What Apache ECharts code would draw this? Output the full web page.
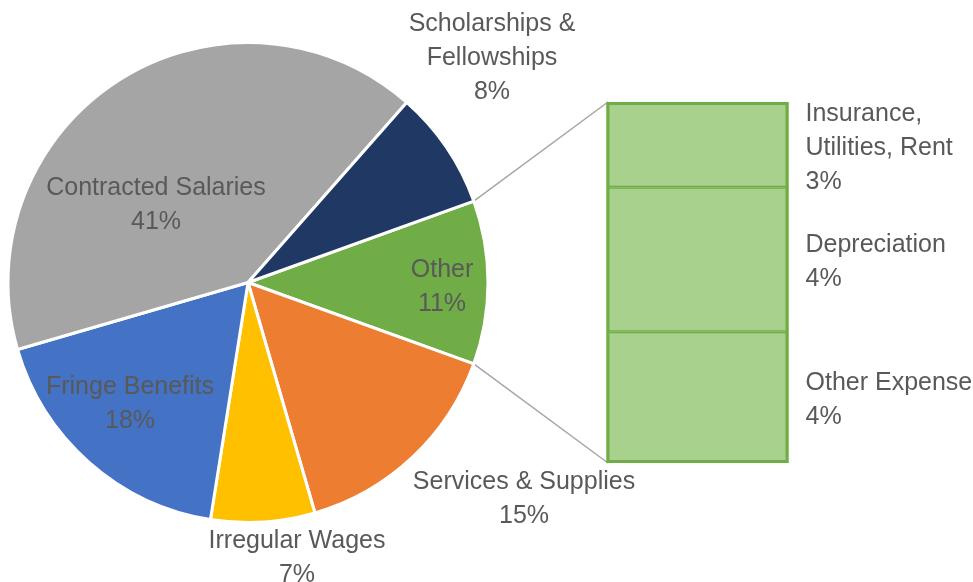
<!DOCTYPE html>
<html>
<head>
<meta charset="utf-8">
<script src="https://cdn.jsdelivr.net/npm/echarts@6/dist/echarts.min.js"></script>
<style>html,body{margin:0;padding:0;background:#fff;}#c{width:973px;height:582px;}</style>
</head>
<body>
<div id="c"></div>
<script>
// ---- data ----
const pieCategories = ['Other', 'Services & Supplies', 'Irregular Wages', 'Fringe Benefits', 'Contracted Salaries', 'Scholarships & Fellowships'];
const pieLabelNames = ['Other', 'Services & Supplies', 'Irregular Wages', 'Fringe Benefits', 'Contracted Salaries', 'Scholarships &\nFellowships'];
const pieValues = [11, 15, 7, 18, 41, 8];
const barCategories = ['Other Expense', 'Depreciation', 'Insurance, Utilities, Rent'];
const barLabelNames = ['Other Expense', 'Depreciation', 'Insurance,\nUtilities, Rent'];
const barValues = [4.0, 4.4, 2.6];

// ---- styling / layout ----
const pieColors = ['#70ad47', '#ed7d31', '#ffc000', '#4472c4', '#a5a5a5', '#203864'];
const textColor = '#595959';
const font = 'Liberation Sans';
const fontSize = 25;
const lineH = 34;
const cx = 248, cy = 282.5, R = 240;
// label centers relative to pie centre (px)
const labelOffsets = [[194, 5], [276, 217], [49, 276], [-118, 122], [-92, -77], [244, -224]];
const gridLeft = 606.5, gridTop = 102, gridWidth = 182, gridHeight = 361;

const total = pieValues.reduce((a, b) => a + b, 0);
const barTotal = barValues.reduce((a, b) => a + b, 0);
const otherDeg = 360 * pieValues[0] / total;

const chart = echarts.init(document.getElementById('c'), null, {renderer: 'canvas'});

const barSeries = barValues.map((v, i) => ({
  type: 'bar',
  name: barCategories[i],
  stack: 'other',
  data: [v],
  barWidth: '100%',
  barGap: '-100%',
  itemStyle: {color: '#a9d18e', borderColor: '#70ad47', borderWidth: 1.5},
  label: {
    show: true,
    position: 'right',
    distance: 17,
    offset: [0, 3],
    align: 'left',
    color: textColor,
    fontFamily: font,
    fontSize: fontSize,
    lineHeight: lineH,
    formatter: () => barLabelNames[i] + '\n' + Math.round(v / total * 100) + '%'
  },
  emphasis: {disabled: true},
  silent: true
}));

// outline of the whole stacked bar (sum of the breakdown)
barSeries.push({
  type: 'bar',
  name: 'outline',
  data: [barTotal],
  barWidth: '100%',
  barGap: '-100%',
  z: 3,
  itemStyle: {color: 'rgba(0,0,0,0)', borderColor: '#70ad47', borderWidth: 3},
  label: {show: false},
  emphasis: {disabled: true},
  silent: true
});

chart.setOption({
  animation: false,
  backgroundColor: '#ffffff',
  grid: {left: gridLeft, top: gridTop, width: gridWidth, height: gridHeight, containLabel: false},
  xAxis: {type: 'category', data: ['Other'], show: false, boundaryGap: true},
  yAxis: {type: 'value', min: 0, max: barTotal, show: false, splitLine: {show: false}},
  series: [
    {
      type: 'pie',
      center: [cx, cy],
      radius: R,
      startAngle: otherDeg / 2,
      clockwise: true,
      avoidLabelOverlap: false,
      silent: true,
      emphasis: {disabled: true},
      data: pieCategories.map((n, i) => ({name: n, value: pieValues[i], itemStyle: {color: pieColors[i]}})),
      itemStyle: {borderColor: '#ffffff', borderWidth: 3},
      label: {
        show: true,
        position: 'inside',
        color: textColor,
        fontFamily: font,
        fontSize: fontSize,
        lineHeight: lineH,
        align: 'center',
        formatter: p => pieLabelNames[p.dataIndex] + '\n' + Math.round(p.percent) + '%'
      },
      labelLine: {show: false},
      labelLayout: p => ({
        x: cx + labelOffsets[p.dataIndex][0],
        y: cy + labelOffsets[p.dataIndex][1],
        align: 'center',
        verticalAlign: 'middle'
      })
    },
    ...barSeries
  ]
});

// connector lines from the "Other" slice edges to the bar corners
const a1 = (90 - otherDeg / 2) * Math.PI / 180; // compass angle of slice start
const a2 = (90 + otherDeg / 2) * Math.PI / 180;
const p1 = [cx + R * Math.sin(a1), cy - R * Math.cos(a1)];
const p2 = [cx + R * Math.sin(a2), cy - R * Math.cos(a2)];
const yTop = chart.convertToPixel({yAxisIndex: 0}, barTotal);
const yBot = chart.convertToPixel({yAxisIndex: 0}, 0);
const xLeft = chart.convertToPixel({xAxisIndex: 0}, 'Other') - gridWidth / 2 + 1.5;
chart.setOption({
  graphic: [
    {type: 'line', shape: {x1: p1[0], y1: p1[1], x2: xLeft, y2: yTop}, style: {stroke: '#a6a6a6', lineWidth: 1.5}, z: -1},
    {type: 'line', shape: {x1: p2[0], y1: p2[1], x2: xLeft, y2: yBot}, style: {stroke: '#a6a6a6', lineWidth: 1.5}, z: -1}
  ]
});
</script>
</body>
</html>
